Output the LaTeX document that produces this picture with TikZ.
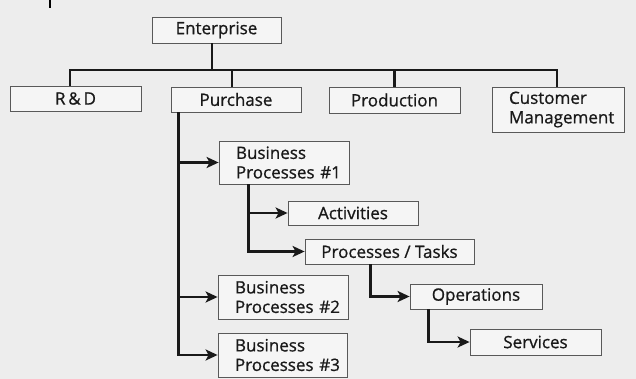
\documentclass[tikz,border=0pt]{standalone}
\usepackage{fontspec}
\setmainfont[FakeBold=0.8]{Open Sans}
\usetikzlibrary{arrows.meta}
\tikzset{
  box/.style={draw=black!65, line width=0.8pt, fill=black!4, rectangle, inner sep=0pt,
    font=\fontsize{17}{19.5}\selectfont, text=black!90},
  two/.style={box, align=left, inner xsep=17pt},
  conn/.style={line width=2.5pt, black!90},
  arr/.style={conn, -{Stealth[length=12pt,width=11pt,inset=3pt]}},
}
\begin{document}
\begin{tikzpicture}[x=1pt,y=-1pt]
\fill[black!7] (0,0) rectangle (636,379);
\useasboundingbox (0,0) rectangle (636,379);
\draw[line width=1.5pt] (50,0) -- (50,8);
\node[box, minimum width=129pt, minimum height=26pt] (ent) at (216.5,30) {Enterprise};
\node[box, minimum width=131pt, minimum height=25pt] (rd) at (75.5,98.5) {R\,\&\,D};
\node[box, minimum width=130pt, minimum height=25pt] (pur) at (236,99.5) {Purchase};
\node[box, minimum width=131pt, minimum height=26pt] (prod) at (394.5,100) {Production};
\node[two, text width=98pt, minimum height=45pt] (cm) at (558,109.5) {Customer\\Management};
\node[two, text width=96pt, minimum height=43pt] (bp1) at (284,162.5) {Business\\Processes~\#1};
\node[box, minimum width=130pt, minimum height=24pt] (act) at (353,213) {Activities};
\node[box, minimum width=169pt, minimum height=25pt] (pt) at (389.5,251.5) {Processes / Tasks};
\node[two, text width=96pt, minimum height=44pt] (bp2) at (283,297) {Business\\Processes~\#2};
\node[two, text width=95pt, minimum height=44pt] (bp3) at (282.5,355) {Business\\Processes~\#3};
\node[box, minimum width=132pt, minimum height=25pt] (ops) at (476,296.5) {Operations};
\node[box, minimum width=131pt, minimum height=26pt] (srv) at (535.5,342) {Services};
% top tree
\coordinate (bus) at (212,70);
\draw[conn] (ent.south -| bus) -- (bus);
\draw[conn] ([xshift=-5.5pt]rd.north) |- ([xshift=-1pt]cm.north |- bus) -- ([xshift=-1pt]cm.north);
\draw[conn] ([xshift=-4pt]pur.north) -- ([xshift=-4pt]pur.north |- bus);
\draw[conn] (prod.north) -- (prod.north |- bus);
% purchase trunk
\coordinate (ptr) at ([xshift=8pt]pur.south west);
\draw[arr] (ptr) |- (bp3.west);
\draw[arr] (ptr |- bp1.west) -- (bp1.west);
\draw[arr] (ptr |- bp2.west) -- (bp2.west);
% bp1 subtree
\coordinate (b1t) at ([xshift=30pt]bp1.south west);
\draw[arr] (b1t) |- (pt.west);
\draw[arr] (b1t |- act.west) -- (act.west);
\coordinate (ptt) at ([xshift=66pt]pt.south west);
\draw[arr] (ptt) |- (ops.west);
\coordinate (opt) at ([xshift=19pt]ops.south west);
\draw[arr] (opt) |- (srv.west);
\end{tikzpicture}
\end{document}
